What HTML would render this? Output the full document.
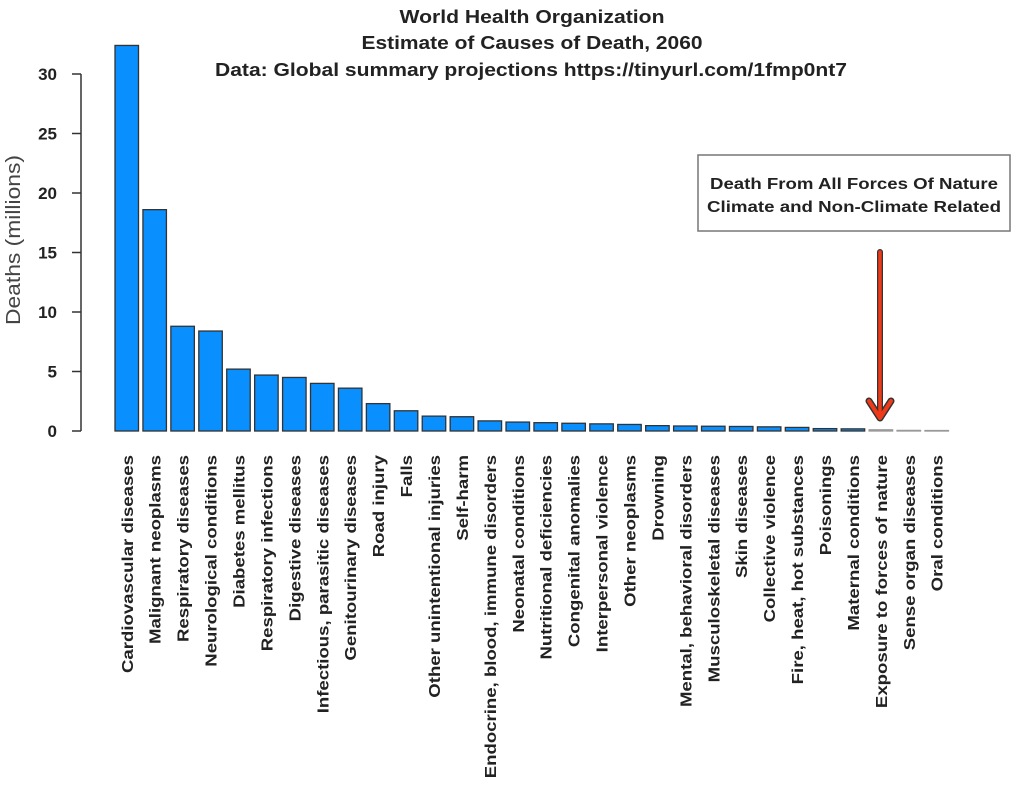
<!DOCTYPE html>
<html><head><meta charset="utf-8"><style>
body{margin:0;background:#fff;}
svg{display:block;font-family:"Liberation Sans",sans-serif;}
</style></head><body>
<svg id="chart" width="1016" height="785" viewBox="0 0 1016 785">
<g font-weight="bold" font-size="18" text-anchor="middle" fill="#222">
<text x="532" y="23" textLength="265" lengthAdjust="spacingAndGlyphs">World Health Organization</text>
<text x="532" y="49" textLength="341" lengthAdjust="spacingAndGlyphs">Estimate of Causes of Death, 2060</text>
<text x="531" y="76" textLength="632" lengthAdjust="spacingAndGlyphs">Data: Global summary projections https://tinyurl.com/1fmp0nt7</text>
</g>
<text x="20" y="240" font-size="20" fill="#444" text-anchor="middle" textLength="170" lengthAdjust="spacingAndGlyphs" transform="rotate(-90 20 240)">Deaths (millions)</text>
<g id="yaxis"></g>
<g id="bars"></g>
<g id="xlabels"></g>
<g>
<rect x="698" y="155" width="312" height="76" fill="#fff" stroke="#777" stroke-width="1.5"/>
<text x="854" y="189" font-size="16" font-weight="bold" text-anchor="middle" fill="#222" textLength="288" lengthAdjust="spacingAndGlyphs">Death From All Forces Of Nature</text>
<text x="854" y="212" font-size="16" font-weight="bold" text-anchor="middle" fill="#222" textLength="294" lengthAdjust="spacingAndGlyphs">Climate and Non-Climate Related</text>
</g>
<g>
<line x1="880" y1="252" x2="880" y2="414" stroke="#333" stroke-width="6" stroke-linecap="round"/>
<polyline points="869,401 880,418 891,401" fill="none" stroke="#333" stroke-width="7" stroke-linecap="round" stroke-linejoin="round"/>
<line x1="880" y1="252" x2="880" y2="414" stroke="#f03a17" stroke-width="3.5" stroke-linecap="round"/>
<polyline points="869,401 880,418 891,401" fill="none" stroke="#f03a17" stroke-width="4" stroke-linecap="round" stroke-linejoin="round"/>
</g>
</svg>
<script>
const categories=["Cardiovascular diseases","Malignant neoplasms","Respiratory diseases","Neurological conditions","Diabetes mellitus","Respiratory infections","Digestive diseases","Infectious, parasitic diseases","Genitourinary diseases","Road injury","Falls","Other unintentional injuries","Self-harm","Endocrine, blood, immune disorders","Neonatal conditions","Nutritional deficiencies","Congenital anomalies","Interpersonal violence","Other neoplasms","Drowning","Mental, behavioral disorders","Musculoskeletal diseases","Skin diseases","Collective violence","Fire, heat, hot substances","Poisonings","Maternal conditions","Exposure to forces of nature","Sense organ diseases","Oral conditions"];
const deaths=[32.4,18.6,8.8,8.4,5.2,4.7,4.5,4.0,3.6,2.3,1.7,1.25,1.2,0.85,0.75,0.7,0.65,0.6,0.55,0.45,0.42,0.4,0.38,0.35,0.3,0.2,0.18,0.1,0.05,0.04];
const yTicks=[0,5,10,15,20,25,30];
const NS="http://www.w3.org/2000/svg";
const y0=431, ppu=11.9;
function yScale(v){return y0-v*ppu;}
function xScale(i){return 115+i*27.93;}
const bw=23.5;
const yax=document.getElementById('yaxis');
let l=document.createElementNS(NS,'line');
l.setAttribute('x1',81);l.setAttribute('x2',81);l.setAttribute('y1',yScale(0));l.setAttribute('y2',yScale(30));
l.setAttribute('stroke','#333');l.setAttribute('stroke-width','1.5');


yax.appendChild(l);
yTicks.forEach(t=>{
 const tk=document.createElementNS(NS,'line');
 tk.setAttribute('x1',72);tk.setAttribute('x2',81);tk.setAttribute('y1',yScale(t));tk.setAttribute('y2',yScale(t));
 tk.setAttribute('stroke','#333');tk.setAttribute('stroke-width','1.5');
 
 
 yax.appendChild(tk);
 const tx=document.createElementNS(NS,'text');
 tx.setAttribute('x',57);tx.setAttribute('y',yScale(t)+6);tx.setAttribute('text-anchor','end');
 tx.setAttribute('font-size','17');tx.setAttribute('font-weight','bold');tx.setAttribute('fill','#222');
 tx.textContent=t;
 
 
 yax.appendChild(tx);
});
const bars=document.getElementById('bars'), xl=document.getElementById('xlabels');
categories.forEach((c,i)=>{
 const v=deaths[i];
 const r=document.createElementNS(NS,'rect');
 const top=yScale(v);
 r.setAttribute('x',xScale(i));r.setAttribute('y',top);r.setAttribute('width',bw);r.setAttribute('height',Math.max(y0-top,0.5));
 r.setAttribute('fill','#0a8fff');r.setAttribute('stroke',v<0.15?'#999':'#333');r.setAttribute('stroke-width','1.3');
 
 
 bars.appendChild(r);
 const cx=xScale(i)+bw/2+6;
 const t=document.createElementNS(NS,'text');
 t.setAttribute('x',0);t.setAttribute('y',0);
 t.setAttribute('transform','translate('+cx+' 455) rotate(-90) scale(1.2 1)');
 t.setAttribute('text-anchor','end');t.setAttribute('font-size','15.5');t.setAttribute('font-weight','bold');t.setAttribute('fill','#222');
 t.textContent=c;
 
 
 xl.appendChild(t);
});
</script>
</body></html>
